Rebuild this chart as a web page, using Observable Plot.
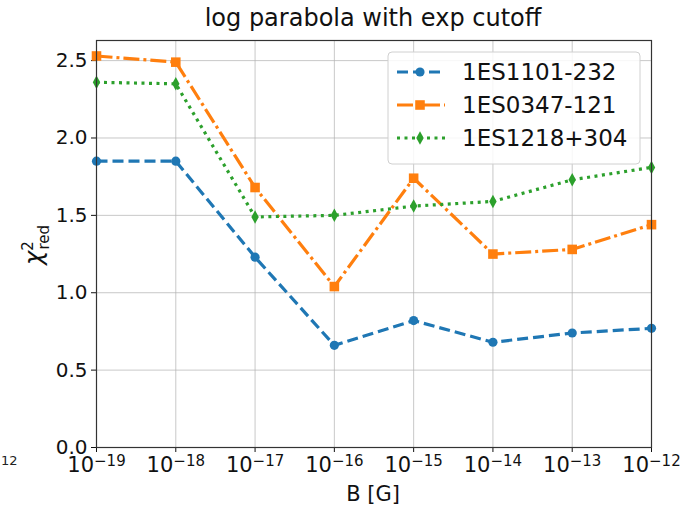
<!DOCTYPE html>
<html><head><meta charset="utf-8">
<script src="https://cdn.jsdelivr.net/npm/d3@7"></script>
<script src="https://cdn.jsdelivr.net/npm/@observablehq/plot@0.6"></script>
<style>
body{margin:0;background:#fff;}
#chart svg{font-family:"DejaVu Sans",sans-serif;background:#fff;}
</style>
</head><body><div id="chart"></div>
<script>
// ---- data ----
const B = [1e-19, 1e-18, 1e-17, 1e-16, 1e-15, 1e-14, 1e-13, 1e-12];
const seriesNames = ["1ES1101-232", "1ES0347-121", "1ES1218+304"];
const chi1101 = [1.85, 1.85, 1.23, 0.66, 0.82, 0.68, 0.74, 0.77];
const chi0347 = [2.53, 2.49, 1.68, 1.04, 1.74, 1.25, 1.28, 1.44];
const chi1218 = [2.36, 2.35, 1.49, 1.50, 1.56, 1.59, 1.73, 1.81];
const yTicks = [0, 0.5, 1.0, 1.5, 2.0, 2.5];
const titleText = "log parabola with exp cutoff";
const xLabel = "B [G]";

const colors = ["#1f77b4", "#ff7f0e", "#2ca02c"];
const dashes = ["11,5", "16,4,3,4", "3,4.5"];

const thinDiamond = {
  draw(ctx, size) {
    const h = Math.sqrt(size / Math.PI) * 1.35, w = h * 0.55;
    ctx.moveTo(0, -h); ctx.lineTo(w, 0); ctx.lineTo(0, h); ctx.lineTo(-w, 0); ctx.closePath();
  }
};
const symbols = ["circle", "square", thinDiamond];
const radii = [4.6, 5.4, 5];

const allSeries = [chi1101, chi0347, chi1218];
const rows = allSeries.map((vals, i) => B.map((b, j) => ({b, v: vals[j], s: seriesNames[i]})));

const marks = [
  Plot.gridX(B, {stroke: "#b0b0b0", strokeOpacity: 0.7, strokeWidth: 1}),
  Plot.gridY(yTicks, {stroke: "#b0b0b0", strokeOpacity: 0.7, strokeWidth: 1}),
  Plot.axisX({ticks: B, tickSize: 5, tickPadding: 5, fontSize: 21, label: null, tickFormat: d => String(Math.round(Math.log10(d)))}),
  Plot.axisY({ticks: yTicks, tickSize: 5, tickPadding: 4, fontSize: 20, label: null, tickFormat: d3.format(".1f")}),
];
rows.forEach((r, i) => {
  marks.push(Plot.line(r, {x: "b", y: "v", stroke: colors[i], strokeWidth: 3.2, strokeDasharray: dashes[i], strokeLinecap: "butt"}));
  marks.push(Plot.dot(r, {x: "b", y: "v", fill: colors[i], stroke: "none", r: radii[i], symbol: symbols[i]}));
});
marks.push(Plot.frame({stroke: "#333", strokeWidth: 1.2}));

const chart = Plot.plot({
  width: 683, height: 509,
  marginLeft: 96, marginRight: 32, marginTop: 40, marginBottom: 62,
  x: {type: "log", domain: [1e-19, 1e-12]},
  y: {domain: [0, 2.63]},
  style: {fontFamily: "DejaVu Sans", color: "#111", background: "#fff"},
  marks
});
document.getElementById("chart").appendChild(chart);

const svg = d3.select(chart);
// superscript tick labels
svg.selectAll('g[aria-label="x-axis tick label"] text').each(function() {
  const t = d3.select(this);
  const e = t.text().replace("-", "\u2212");
  t.text(null);
  t.append("tspan").text("10");
  t.append("tspan").attr("dy", "-0.45em").attr("font-size", 15).text(e);
});
// title
svg.append("text").attr("x", 373).attr("y", 26).attr("text-anchor", "middle")
  .attr("font-size", 24).attr("fill", "#111").text(titleText);
// x label
svg.append("text").attr("x", 373).attr("y", 501).attr("text-anchor", "middle")
  .attr("font-size", 21).attr("fill", "#111").text(xLabel);
// y label chi^2_red
const yl = svg.append("text").attr("transform", "translate(42,245) rotate(-90)")
  .attr("text-anchor", "middle").attr("font-size", 24).attr("fill", "#111");
yl.append("tspan").attr("font-style", "italic").text("\u03c7");
yl.append("tspan").attr("font-size", 15).attr("dy", "-0.6em").text("2");
yl.append("tspan").attr("font-size", 15).attr("dx", "-0.55em").attr("dy", "1.05em").text("red");
// stray cropped label from neighbouring panel
svg.append("text").attr("x", 1).attr("y", 465).attr("text-anchor", "start").attr("font-size", 13).attr("fill", "#222").text("12");
// legend
const lg = svg.append("g").attr("transform", "translate(388,52)");
lg.append("rect").attr("width", 252).attr("height", 112).attr("rx", 4)
  .attr("fill", "#fff").attr("fill-opacity", 0.85).attr("stroke", "#d0d0d0");
const rowY = [20, 53, 86];
seriesNames.forEach((name, i) => {
  const g = lg.append("g").attr("transform", `translate(0,${rowY[i]})`);
  g.append("line").attr("x1", 9).attr("x2", 57).attr("y1", 0).attr("y2", 0)
    .attr("stroke", colors[i]).attr("stroke-width", 3.2).attr("stroke-dasharray", dashes[i]);
  const sym = typeof symbols[i] === "string" ? (symbols[i] === "circle" ? d3.symbolCircle : d3.symbolSquare) : symbols[i];
  g.append("path").attr("transform", "translate(32,0)").attr("fill", colors[i])
    .attr("d", d3.symbol(sym, Math.PI * radii[i] * radii[i])());
  g.append("text").attr("x", 74).attr("y", 0).attr("dy", "0.36em").attr("font-size", 23)
    .attr("text-anchor", "start").attr("fill", "#111").text(name);
});
</script>
</body></html>
